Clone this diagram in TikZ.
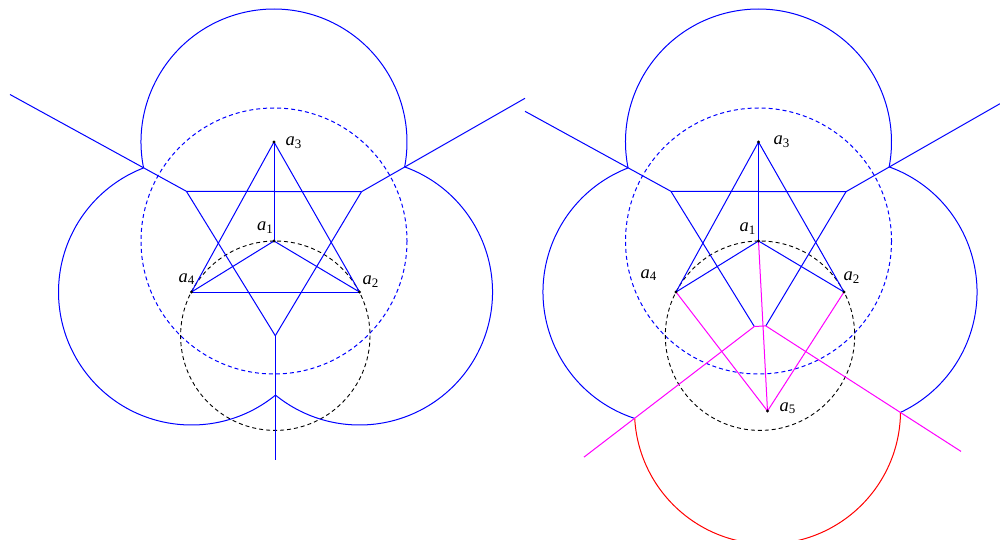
\documentclass[tikz,border=0pt]{standalone}
\usepackage{fontspec}
\setmainfont{Liberation Serif}
\definecolor{vblue}{RGB}{0,0,255}
\definecolor{vmag}{RGB}{255,0,255}
\definecolor{vred}{RGB}{255,0,0}
\definecolor{vblack}{RGB}{0,0,0}
\begin{document}
\begin{tikzpicture}[x=1pt,y=-1pt,
  edgeb/.style={draw=vblue,line width=1pt},
  edgem/.style={draw=vmag,line width=1pt},
  arcr/.style={draw=vred,line width=1pt},
  dashb/.style={draw=vblue,line width=1pt,dash pattern=on 4pt off 3pt},
  dashk/.style={draw=vblack,line width=0.9pt,dash pattern=on 4pt off 3pt},
  lab/.style={font=\fontsize{18.5}{21}\selectfont,inner sep=0pt,anchor=base west},
  ptdot/.style={fill=vblack}]
\useasboundingbox (0,0) rectangle (1000,540);

% ---------------- left figure ----------------
\coordinate (a1) at (274,241);
\coordinate (a2) at (359.5,292);
\coordinate (a3) at (274,142);
\coordinate (a4) at (191.5,292);
\coordinate (v1) at (186.4,191.3);
\coordinate (v2) at (361.5,191.7);
\coordinate (v3) at (275.3,335.7);
\coordinate (p34) at (10,94.5);
\coordinate (p32) at (525,98.3);
\coordinate (p42) at (275.3,460);

\draw[dashb] (a1) circle[radius=133];
\draw[dashk] (v3) circle[radius=94.7];

\draw[edgeb] ([shift={(168.75:133)}]a3) arc[start angle=168.75,end angle=370.79,radius=133];
\draw[edgeb] ([shift={(50.83:133)}]a4) arc[start angle=50.83,end angle=248.87,radius=133];
\draw[edgeb] ([shift={(-70.15:133)}]a2) arc[start angle=-70.15,end angle=129.17,radius=133];

\draw[edgeb] (p34) -- (v1);
\draw[edgeb] (v1) -- (v2);
\draw[edgeb] (v2) -- (p32);
\draw[edgeb] (v1) -- (v3);
\draw[edgeb] (v2) -- (v3);
\draw[edgeb] (v3) -- (p42);

\draw[edgeb] (a3) -- (a4);
\draw[edgeb] (a4) -- (a2);
\draw[edgeb] (a2) -- (a3);
\draw[edgeb] (a1) -- (a3);
\draw[edgeb] (a1) -- (a4);
\draw[edgeb] (a1) -- (a2);

\foreach \p in {a1,a2,a3,a4} \fill[ptdot] (\p) circle[radius=1.6];

\node[lab] (la3) at (285.5,145.5) {\textit{a}\textsubscript{3}};
\node[lab] (la1) at (257,230.5) {\textit{a}\textsubscript{1}};
\node[lab] (la4) at (178.5,282) {\textit{a}\textsubscript{4}};
\node[lab] (la2) at (362.5,284.5) {\textit{a}\textsubscript{2}};

% ---------------- right figure ----------------
\begin{scope}[xshift=484.5pt]
\coordinate (b1) at (274,241);
\coordinate (b2) at (359.5,292);
\coordinate (b3) at (274,142);
\coordinate (b4) at (191.5,292);
\coordinate (b5) at (283,411);
\coordinate (w1) at (186.4,191.3);
\coordinate (w2) at (361.5,191.7);
\coordinate (w3) at (275.5,335.7);
\coordinate (u1) at (269.8,326.5);
\coordinate (u2) at (281.3,325.9);
\coordinate (q34) at (40.5,111.3);
\coordinate (q32) at (515.5,103.7);
\coordinate (q45) at (99.5,457.1);
\coordinate (q25) at (476.5,451.4);

\draw[dashb] (b1) circle[radius=133];
\draw[dashk] (w3) circle[radius=94.7];

\draw[edgeb] ([shift={(168.75:133)}]b3) arc[start angle=168.75,end angle=370.79,radius=133];
\draw[edgeb] ([shift={(108.09:133)}]b4) arc[start angle=108.09,end angle=248.87,radius=133];
\draw[edgeb] ([shift={(-70.15:133)}]b2) arc[start angle=-70.15,end angle=64.87,radius=133];
\draw[arcr] ([shift={(0.61:133)}]b5) arc[start angle=0.61,end angle=176.80,radius=133];

\draw[edgeb] (q34) -- (w1);
\draw[edgeb] (w1) -- (w2);
\draw[edgeb] (w2) -- (q32);
\draw[edgeb] (w1) -- (u1);
\draw[edgeb] (w2) -- (u2);
\draw[edgem] (q45) -- (u1);
\draw[edgem] (u1) -- (u2);
\draw[edgem] (u2) -- (q25);

\draw[edgeb] (b3) -- (b4);
\draw[edgeb] (b3) -- (b2);
\draw[edgeb] (b1) -- (b3);
\draw[edgeb] (b1) -- (b4);
\draw[edgeb] (b1) -- (b2);
\draw[edgem] (b5) -- (b4);
\draw[edgem] (b5) -- (b1);
\draw[edgem] (b5) -- (b2);

\foreach \p in {b1,b2,b3,b4,b5} \fill[ptdot] (\p) circle[radius=1.6];

\node[lab] (lb3) at (289,145) {\textit{a}\textsubscript{3}};
\node[lab] (lb1) at (255,231.5) {\textit{a}\textsubscript{1}};
\node[lab] (lb4) at (156,278) {\textit{a}\textsubscript{4}};
\node[lab] (lb2) at (359,280.5) {\textit{a}\textsubscript{2}};
\node[lab] (lb5) at (295,411) {\textit{a}\textsubscript{5}};
\end{scope}
\end{tikzpicture}
\end{document}
